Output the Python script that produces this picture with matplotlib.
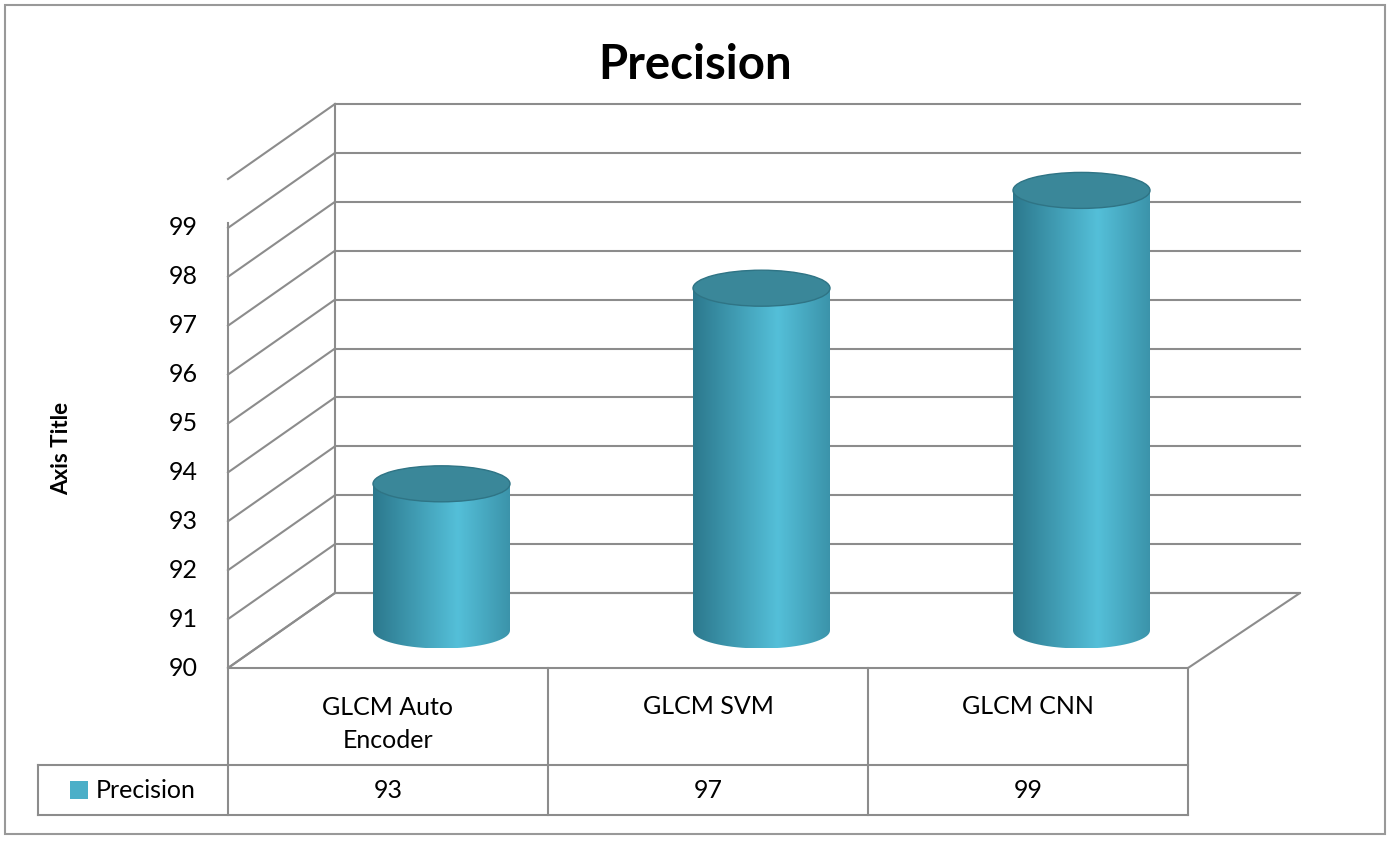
import numpy as np
import matplotlib.pyplot as plt
from matplotlib.patches import Ellipse, Rectangle, Polygon
from matplotlib.path import Path
from matplotlib.patches import PathPatch

plt.rcParams['font.family'] = ['Lato', 'DejaVu Sans']

categories = ['GLCM Auto\nEncoder', 'GLCM SVM', 'GLCM CNN']
values = [93, 97, 99]
series_name = 'Precision'
y_ticks = list(range(90, 100))

W, H = 1390, 841
fig = plt.figure(figsize=(W / 100, H / 100), dpi=100)
ax = fig.add_axes([0, 0, 1, 1])
ax.set_xlim(0, W)
ax.set_ylim(H, 0)
ax.axis('off')

# projection helpers (front plane / depth offset)
x_left, x_right = 228, 1188
y_base, unit = 668, 48.9
dx, dy = 107, -75


def py(v, depth=0.0):
    return y_base - (v - 90) * unit + dy * depth


grid = '#8c8c8c'
# outer border
ax.add_patch(Rectangle((5, 5), W - 10, H - 12, fill=False, ec='#999999', lw=1.5))

# walls and grid
for v in y_ticks + [100]:
    yf, yb = py(v), py(v, 1)
    ax.plot([x_left, x_left + dx], [yf, yb], color=grid, lw=1.5)
    ax.plot([x_left + dx, x_right + dx + 5], [yb, yb], color=grid, lw=1.5)
ax.plot([x_left, x_left], [py(90), py(99.1)], color=grid, lw=1.5)
ax.plot([x_left + dx, x_left + dx], [py(90, 1), py(100, 1)], color=grid, lw=1.5)
ax.add_patch(Polygon([(x_left, py(90)), (x_left + dx, py(90, 1)),
                      (x_right + dx + 5, py(90, 1)), (x_right, py(90))],
                     closed=True, fill=False, ec=grid, lw=1.5))

for v in y_ticks:
    ax.text(198, py(v), str(v), ha='right', va='center', fontsize=18)

ax.text(62, py(94.5), 'Axis Title', rotation=90, ha='center', va='center',
        fontsize=16, fontweight='bold')
ax.text(W / 2, 65, 'Precision', ha='center', va='center', fontsize=34,
        fontweight='bold')

# cylinders
col_w = (x_right - x_left) / len(categories)
cyl_w, ell_h = 137, 36
grad = np.linspace(0, 1, 256)
shade = 1 - np.abs(grad - 0.62) * 1.5
shade = np.clip(shade, 0, 1)
dark = np.array([0.16, 0.45, 0.53])
light = np.array([0.33, 0.75, 0.85])
img = dark[None, :] + (light - dark)[None, :] * shade[:, None]
img = img[None, :, :]

for i, v in enumerate(values):
    cx = x_left + col_w * (i + 0.5) + dx / 2
    x0, x1 = cx - cyl_w / 2, cx + cyl_w / 2
    yb, yt = py(90, 0.5), py(v, 0.5)
    t = np.linspace(0, np.pi, 40)
    bottom = [(cx + cyl_w / 2 * np.cos(a), yb + ell_h / 2 * np.sin(a)) for a in t[::-1]]
    verts = [(x0, yt), (x1, yt)] + [(x1, yb)] + bottom[::-1][::-1] + [(x0, yt)]
    body = Polygon([(x0, yt), (x1, yt)] + [(cx + cyl_w / 2 * np.cos(a), yb + ell_h / 2 * np.sin(a)) for a in t] + [(x0, yt)],
                   closed=True, fc='none', ec='none')
    ax.add_patch(body)
    im = ax.imshow(img, extent=(x0, x1, yb + ell_h / 2, yt), aspect='auto', zorder=2)
    im.set_clip_path(body)
    ax.add_patch(Ellipse((cx, yt), cyl_w, ell_h, fc='#3a8799', ec='#2f7485', lw=1, zorder=3))

# data table
rows = [668, 765, 815]
ax.plot([x_left, x_left], [rows[0], rows[2]], color=grid, lw=1.5)
for k in range(1, len(categories) + 1):
    xx = x_left + col_w * k
    ax.plot([xx, xx], [rows[0], rows[2]], color=grid, lw=1.5)
ax.plot([x_left, x_right], [rows[1], rows[1]], color=grid, lw=1.5)
ax.plot([38, x_right], [rows[2], rows[2]], color=grid, lw=1.5)
ax.plot([38, x_left], [rows[1], rows[1]], color=grid, lw=1.5)
ax.plot([38, 38], [rows[1], rows[2]], color=grid, lw=1.5)
for i, (c, v) in enumerate(zip(categories, values)):
    xc = x_left + col_w * (i + 0.5)
    ax.text(xc, 706 if '\n' not in c else 724, c, ha='center', va='center',
            fontsize=18, linespacing=1.5)
    ax.text(xc, 790, str(v), ha='center', va='center', fontsize=18)
ax.add_patch(Rectangle((70, 781), 18, 18, fc='#4bafc8', ec='none'))
ax.text(96, 790, series_name, ha='left', va='center', fontsize=18)

fig.savefig('out.png', dpi=100)
